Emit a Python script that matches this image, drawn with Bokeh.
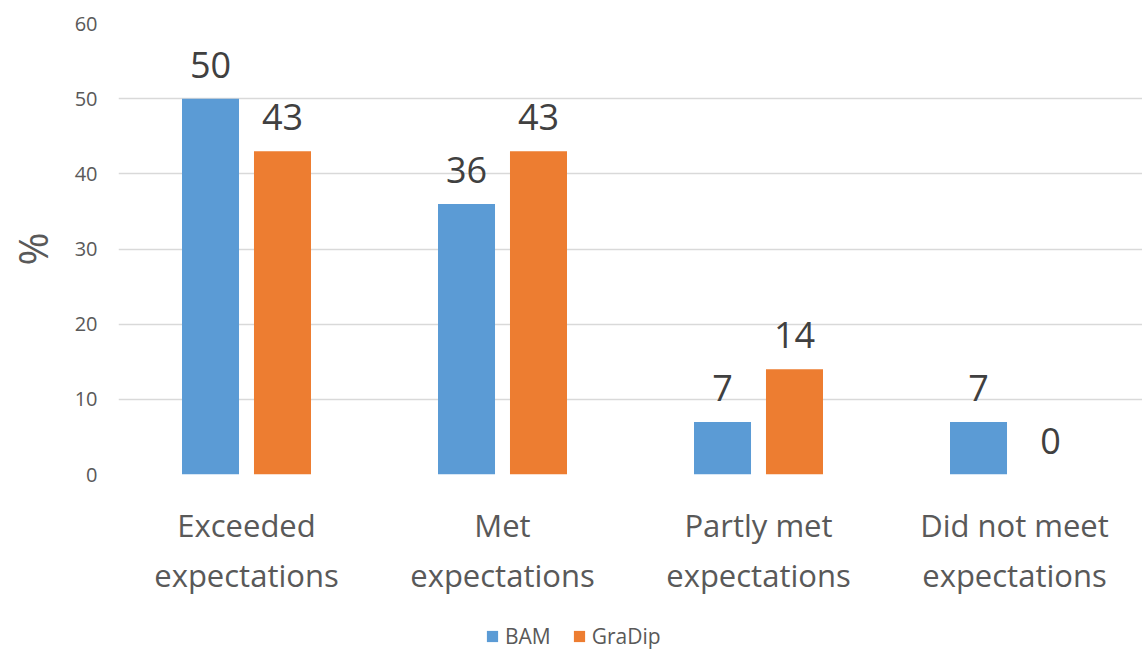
from bokeh.plotting import figure
from bokeh.layouts import column
from bokeh.models import ColumnDataSource, FactorRange, Range1d, Legend, LegendItem, SingleIntervalTicker
from bokeh.transform import dodge
from bokeh.core.properties import value
from bokeh.embed import file_html
from bokeh.resources import INLINE

categories = ["Exceeded\nexpectations", "Met\nexpectations", "Partly met\nexpectations", "Did not meet\nexpectations"]
bam = [50, 36, 7, 7]
gradip = [43, 43, 14, 0]
series_names = ["BAM", "GraDip"]
colors = ["#5B9BD5", "#ED7D31"]

src = ColumnDataSource(dict(cat=categories, bam=bam, gradip=gradip,
                            bam_lbl=[str(v) for v in bam], gradip_lbl=[str(v) for v in gradip]))

FONT = "Open Sans"
W = 1142
p = figure(width=W, height=620, x_range=FactorRange(*categories, range_padding=0),
           y_range=Range1d(0, 60), output_backend="svg", toolbar_location=None,
           min_border_left=118, min_border_right=0, min_border_top=23, min_border_bottom=146)
p.outline_line_color = None
p.background_fill_color = "white"
p.border_fill_color = "white"

off = 0.1406
w = 0.2227
p.vbar(x=dodge("cat", -off, range=p.x_range), top="bam", width=w, source=src,
       fill_color=colors[0], line_color=None)
p.vbar(x=dodge("cat", off, range=p.x_range), top="gradip", width=w, source=src,
       fill_color=colors[1], line_color=None)

for col, o in (("bam_lbl", -off), ("gradip_lbl", off)):
    p.text(x=dodge("cat", o, range=p.x_range), y=col.replace("_lbl", ""), text=col, source=src,
           text_align="center", text_baseline="alphabetic", y_offset=-34,
           text_font=value(FONT), text_font_size="36px", text_color="#404040")

# axes
p.yaxis.ticker = SingleIntervalTicker(interval=10)
p.yaxis.axis_line_color = None
p.yaxis.major_tick_line_color = None
p.yaxis.minor_tick_line_color = None
p.yaxis.major_label_text_font = FONT
p.yaxis.major_label_text_font_size = "20px"
p.yaxis.major_label_text_color = "#595959"
p.yaxis.major_label_standoff = 15
p.yaxis.axis_label = "%"
p.yaxis.axis_label_text_font = FONT
p.yaxis.axis_label_text_font_size = "40px"
p.yaxis.axis_label_text_font_style = "normal"
p.yaxis.axis_label_text_color = "#595959"
p.yaxis.axis_label_standoff = 12

p.xaxis.axis_line_color = None
p.xaxis.major_tick_line_color = None
p.xaxis.minor_tick_line_color = None
p.xaxis.major_label_text_font = FONT
p.xaxis.major_label_text_font_size = "31px"
p.xaxis.major_label_text_color = "#595959"
p.xaxis.major_label_standoff = 23

p.xgrid.grid_line_color = None
p.ygrid.grid_line_color = "#D9D9D9"
p.ygrid.grid_line_width = 1.5

# legend strip
lg = figure(width=W, height=30, x_range=Range1d(0, 1), y_range=Range1d(0, 1),
            output_backend="svg", toolbar_location=None,
            min_border_left=0, min_border_right=0, min_border_top=0, min_border_bottom=0)
lg.axis.visible = False
lg.grid.visible = False
lg.outline_line_color = None
lg.border_fill_color = "white"
d1 = lg.vbar(x=[5], top=[5], width=0.1, fill_color=colors[0], line_color=None)
d2 = lg.vbar(x=[5], top=[5], width=0.1, fill_color=colors[1], line_color=None)
legend = Legend(items=[LegendItem(label=series_names[0], renderers=[d1]),
                       LegendItem(label=series_names[1], renderers=[d2])],
                orientation="horizontal", location=(367, 0),
                label_text_font=FONT, label_text_font_size="21px", label_text_color="#595959",
                glyph_width=14, glyph_height=14, spacing=21, label_standoff=6,
                border_line_color=None, background_fill_alpha=0, margin=0, padding=0)
lg.add_layout(legend, "center")

open("out.html", "w").write(file_html(column(p, lg, spacing=0), INLINE))
